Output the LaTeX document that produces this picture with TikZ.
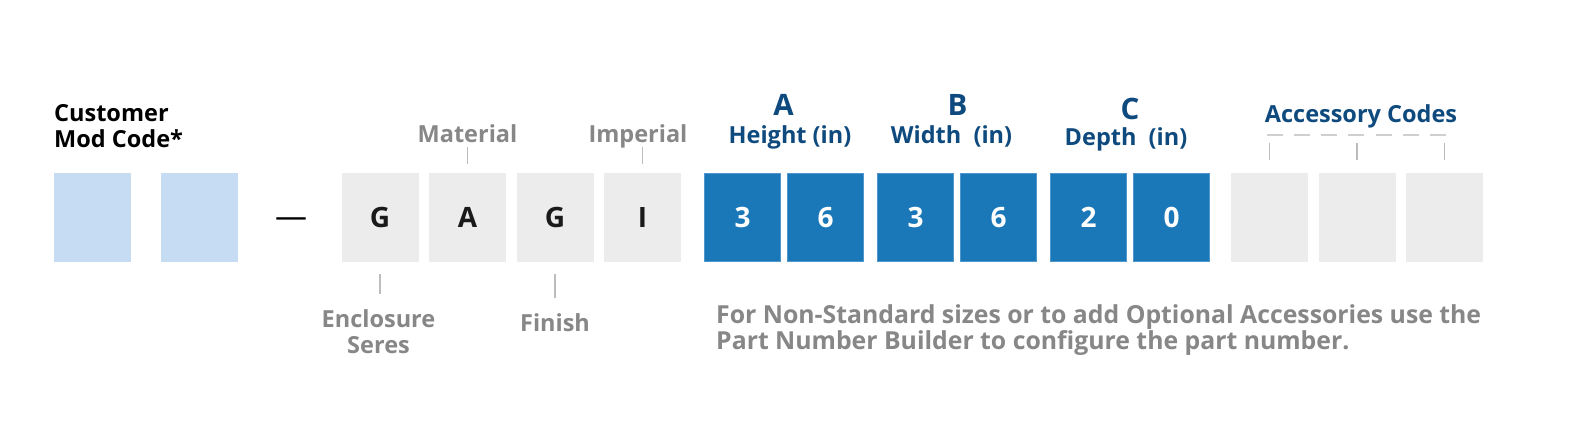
\documentclass[tikz,border=0pt]{standalone}
\usepackage{fontspec}
\setmainfont{Open Sans}
\usepackage{tikz}
\usetikzlibrary{shapes.geometric, arrows}
\definecolor{custblue}{HTML}{C5DCF2}
\definecolor{codegray}{HTML}{ECECEC}
\definecolor{dimblue}{HTML}{1A78B8}
\definecolor{dimedge}{HTML}{4F97CC}
\definecolor{headblue}{HTML}{0E4A7E}
\definecolor{labelgray}{HTML}{878787}
\definecolor{tickgray}{HTML}{BDBDBD}
\definecolor{dashgray}{HTML}{CFCFCF}
\definecolor{digitblack}{HTML}{1A1A1A}
\tikzstyle{pcust} = [rectangle, minimum width=77pt, minimum height=89.5pt, inner sep=0pt, fill=custblue]
\tikzstyle{pcode} = [rectangle, minimum width=77pt, minimum height=89.5pt, inner sep=0pt, fill=codegray, text=digitblack, font=\fontsize{28}{28}\selectfont\bfseries]
\tikzstyle{pdim} = [rectangle, minimum width=76pt, minimum height=88.5pt, inner sep=0pt, fill=dimblue, draw=dimedge, line width=1pt, text=white, font=\fontsize{28}{28}\selectfont\bfseries]
\tikzstyle{pacc} = [rectangle, minimum width=77pt, minimum height=89.5pt, inner sep=0pt, fill=codegray]
\tikzstyle{plabel} = [inner sep=0pt, anchor=base, text=labelgray, font=\fontsize{23.5}{26}\selectfont\bfseries]
\tikzstyle{phead} = [inner sep=0pt, anchor=base, text=headblue, font=\fontsize{23.5}{26}\selectfont\bfseries]
\tikzstyle{pletter} = [inner sep=0pt, anchor=base, text=headblue, font=\fontsize{29.5}{30}\selectfont\bfseries]
\tikzstyle{tick} = [draw=tickgray, line width=1.3pt]
\tikzstyle{accline} = [draw=dashgray, line width=2pt, dash pattern=on 16pt off 11.3pt]

\begin{document}
\begin{tikzpicture}[x=1pt, y=1pt, node distance=87.5pt]
\fill [white] (0,0) rectangle (1573,444);
\useasboundingbox (0,0) rectangle (1573,444);
% boxes
\node (c1) [pcust] at (92.5,226.7) {};
\node (c2) [pcust, right of=c1, xshift=19] {};
\node (g1) [pcode, right of=c2, xshift=93.5] {G};
\node (g2) [pcode, right of=g1] {A};
\node (g3) [pcode, right of=g2] {G};
\node (g4) [pcode, right of=g3] {I};
\node (b1) [pdim, right of=g4, xshift=12.5] {3};
\node (b2) [pdim, right of=b1, xshift=-4.5] {6};
\node (b3) [pdim, right of=b2, xshift=2.5] {3};
\node (b4) [pdim, right of=b3, xshift=-4.5] {6};
\node (b5) [pdim, right of=b4, xshift=2.5] {2};
\node (b6) [pdim, right of=b5, xshift=-4.5] {0};
\node (a1) [pacc, right of=b6, xshift=10.5] {};
\node (a2) [pacc, right of=a1] {};
\node (a3) [pacc, right of=a2] {};
\node (dash) [inner sep=0pt, font=\fontsize{32}{32}\selectfont, right of=c2, xshift=4.5, yshift=-5.5] {—};
% labels
\node (cust) [inner sep=0pt, anchor=base west, align=left, font=\fontsize{23.5}{26}\selectfont\bfseries] at (54,296) {Customer\\Mod Code*};
\node (mat) [plabel, yshift=29.5] at (g2.north) {Material};
\node (imp) [plabel, xshift=-4.5, yshift=29.5] at (g4.north) {Imperial};
\node (encl) [plabel, align=center, xshift=-1.5, yshift=-91] at (g1.south) {Enclosure\\Seres};
\node (fin) [plabel, yshift=-69] at (g3.south) {Finish};
\node (la) [pletter, xshift=2.6, yshift=56.8] at (b1.north east) {A};
\node (lh) [phead, xshift=9, yshift=29.5] at (b1.north east) {Height (in)};
\node (lb) [pletter, xshift=3.4, yshift=56.8] at (b3.north east) {B};
\node (lw) [phead, xshift=-2.5, yshift=29.5] at (b3.north east) {Width\ \ (in)};
\node (lc) [pletter, xshift=3, yshift=53.5] at (b5.north east) {C};
\node (ld) [phead, xshift=-1, yshift=27.5] at (b5.north east) {Depth\ \ (in)};
\node (lacc) [phead, xshift=4, yshift=50.2] at (a2.north) {Accessory Codes};
\node (note) [plabel, anchor=base west, align=left, font=\fontsize{24.8}{26}\selectfont\bfseries, xshift=12, yshift=-87.3] at (b1.south west) {For Non-Standard sizes or to add Optional Accessories use the\\Part Number Builder to configure the part number.};
% ticks
\coordinate (accl) at ([xshift=-3,yshift=37.5]a1.north);
\coordinate (accr) at ([xshift=2,yshift=37.5]a3.north);
\draw [accline] (accl) -- (accr);
\draw [tick, shorten <=8.5pt, shorten >=4pt] (g2) -- (g2 |- mat.base);
\draw [tick, shorten <=8.5pt, shorten >=4pt] (g4) -- (g4 |- imp.base);
\draw [tick, shorten <=12pt, shorten >=15pt] (g1) -- (g1 |- encl.north);
\draw [tick, shorten <=12pt, shorten >=15pt] (g3) -- (g3 |- fin.north);
\draw [tick, shorten <=12pt, shorten >=8.5pt] (a1) -- (a1 |- accl);
\draw [tick, shorten <=12pt, shorten >=8.5pt] (a2) -- (a2 |- accl);
\draw [tick, shorten <=12pt, shorten >=8.5pt] (a3) -- (a3 |- accl);
\end{tikzpicture}
\end{document}
